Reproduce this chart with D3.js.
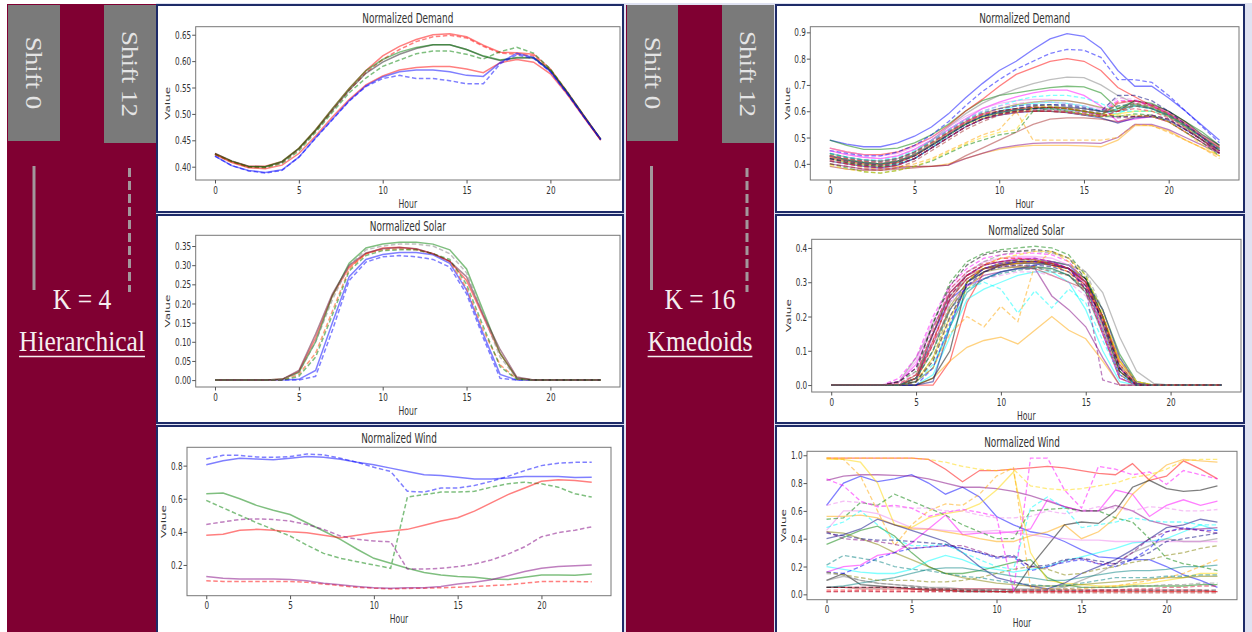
<!DOCTYPE html>
<html>
<head>
<meta charset="utf-8">
<script src="https://cdn.jsdelivr.net/npm/d3@7"></script>
<style>
  body { margin: 0; background: #fff; }
  svg { display: block; }
</style>
</head>
<body>
<svg id="fig" width="1252" height="632"></svg>
<script>
// ---- data ----
const hours = d3.range(24);
const xTicks = [0, 5, 10, 15, 20];

// Hierarchical, K = 4 (8 lines each: shift 0 solid / shift 12 dashed)
const hierDemandSeries = [
  [0.425,0.41,0.401,0.401,0.41,0.435,0.47,0.51,0.548,0.582,0.61,0.628,0.641,0.65,0.652,0.646,0.63,0.617,0.616,0.613,0.585,0.542,0.497,0.452],
  [0.424,0.41,0.4,0.399,0.408,0.433,0.468,0.507,0.545,0.578,0.603,0.622,0.637,0.646,0.649,0.644,0.628,0.615,0.613,0.61,0.582,0.54,0.495,0.451],
  [0.425,0.411,0.401,0.4,0.409,0.434,0.468,0.507,0.545,0.577,0.598,0.613,0.624,0.631,0.631,0.622,0.609,0.601,0.606,0.606,0.582,0.54,0.495,0.451],
  [0.424,0.41,0.4,0.4,0.41,0.435,0.47,0.51,0.548,0.582,0.603,0.617,0.626,0.631,0.631,0.622,0.61,0.602,0.607,0.607,0.583,0.541,0.496,0.452],
  [0.423,0.409,0.399,0.398,0.406,0.43,0.465,0.503,0.54,0.568,0.59,0.602,0.614,0.619,0.619,0.613,0.604,0.618,0.626,0.615,0.585,0.542,0.496,0.452],
  [0.423,0.408,0.398,0.396,0.403,0.425,0.458,0.494,0.527,0.555,0.572,0.583,0.588,0.59,0.59,0.585,0.578,0.597,0.603,0.598,0.576,0.537,0.493,0.45],
  [0.42,0.402,0.393,0.389,0.394,0.418,0.455,0.49,0.525,0.553,0.57,0.58,0.583,0.583,0.58,0.573,0.571,0.597,0.615,0.607,0.58,0.54,0.495,0.452],
  [0.42,0.402,0.392,0.388,0.393,0.418,0.454,0.489,0.524,0.552,0.567,0.573,0.567,0.567,0.563,0.557,0.557,0.595,0.612,0.605,0.58,0.538,0.494,0.451]
];
const hierSolarSeries = [
  [0,0,0,0,0,0.002,0.025,0.15,0.27,0.315,0.328,0.333,0.333,0.327,0.305,0.235,0.12,0.015,0,0,0,0,0,0],
  [0,0,0,0,0,0,0.01,0.13,0.26,0.308,0.322,0.325,0.322,0.315,0.295,0.225,0.11,0.005,0,0,0,0,0,0],
  [0,0,0,0,0.002,0.022,0.11,0.22,0.295,0.33,0.345,0.347,0.342,0.33,0.31,0.26,0.165,0.07,0.005,0,0,0,0,0],
  [0,0,0,0,0,0.015,0.07,0.18,0.29,0.33,0.34,0.343,0.34,0.33,0.31,0.24,0.13,0.04,0.003,0,0,0,0,0],
  [0,0,0,0,0.002,0.02,0.1,0.22,0.305,0.345,0.355,0.36,0.36,0.355,0.34,0.29,0.18,0.07,0.005,0,0,0,0,0],
  [0,0,0,0,0,0.01,0.06,0.17,0.285,0.325,0.338,0.34,0.34,0.33,0.315,0.25,0.14,0.035,0.002,0,0,0,0,0],
  [0,0,0,0,0.002,0.025,0.12,0.225,0.3,0.332,0.343,0.346,0.343,0.33,0.31,0.27,0.17,0.08,0.008,0,0,0,0,0],
  [0,0,0,0,0.002,0.02,0.1,0.21,0.3,0.34,0.35,0.355,0.355,0.35,0.33,0.28,0.17,0.06,0.005,0,0,0,0,0]
];
const hierWindSeries = [
  [0.805,0.83,0.845,0.84,0.835,0.845,0.855,0.85,0.838,0.82,0.805,0.785,0.765,0.745,0.74,0.73,0.72,0.72,0.725,0.735,0.735,0.735,0.728,0.73],
  [0.84,0.862,0.862,0.852,0.85,0.855,0.87,0.865,0.845,0.82,0.79,0.765,0.645,0.64,0.665,0.665,0.68,0.705,0.735,0.77,0.8,0.815,0.82,0.82],
  [0.63,0.635,0.6,0.56,0.53,0.505,0.455,0.405,0.355,0.295,0.24,0.21,0.18,0.155,0.14,0.13,0.125,0.115,0.112,0.125,0.14,0.14,0.138,0.145],
  [0.59,0.545,0.5,0.455,0.415,0.375,0.32,0.27,0.24,0.22,0.2,0.18,0.61,0.625,0.64,0.64,0.645,0.67,0.69,0.7,0.69,0.67,0.63,0.61],
  [0.38,0.385,0.41,0.415,0.41,0.4,0.395,0.38,0.365,0.38,0.395,0.405,0.415,0.44,0.465,0.485,0.525,0.575,0.625,0.665,0.705,0.715,0.71,0.7],
  [0.105,0.1,0.1,0.1,0.1,0.1,0.095,0.085,0.075,0.065,0.06,0.055,0.058,0.06,0.062,0.065,0.07,0.075,0.08,0.09,0.1,0.1,0.1,0.098],
  [0.13,0.12,0.115,0.115,0.115,0.112,0.105,0.09,0.08,0.07,0.062,0.06,0.062,0.063,0.07,0.085,0.095,0.11,0.135,0.16,0.18,0.19,0.195,0.2],
  [0.445,0.46,0.475,0.478,0.475,0.465,0.445,0.415,0.375,0.355,0.345,0.34,0.175,0.175,0.18,0.19,0.205,0.23,0.265,0.31,0.37,0.395,0.41,0.43]
];

// Kmedoids, K = 16: one array per cluster, shift 0 and shift 12
const kmedDemandShift0 = [
  [0.49,0.475,0.465,0.465,0.48,0.505,0.54,0.59,0.65,0.705,0.755,0.79,0.835,0.875,0.895,0.885,0.84,0.755,0.695,0.695,0.65,0.6,0.545,0.49],
  [0.49,0.47,0.455,0.455,0.46,0.48,0.51,0.55,0.6,0.64,0.66,0.67,0.68,0.69,0.695,0.693,0.67,0.61,0.64,0.63,0.6,0.56,0.52,0.47],
  [0.46,0.445,0.435,0.435,0.445,0.47,0.5,0.545,0.6,0.645,0.695,0.74,0.765,0.79,0.8,0.79,0.755,0.69,0.655,0.62,0.59,0.55,0.5,0.46],
  [0.42,0.405,0.395,0.39,0.4,0.42,0.46,0.51,0.55,0.58,0.6,0.62,0.63,0.635,0.63,0.62,0.6,0.59,0.62,0.61,0.58,0.54,0.5,0.45],
  [0.45,0.435,0.425,0.42,0.43,0.455,0.49,0.53,0.57,0.61,0.635,0.655,0.67,0.68,0.68,0.66,0.62,0.56,0.57,0.58,0.56,0.52,0.48,0.44],
  [0.42,0.405,0.395,0.39,0.39,0.39,0.39,0.4,0.42,0.44,0.455,0.465,0.47,0.47,0.47,0.468,0.465,0.49,0.545,0.545,0.525,0.49,0.46,0.43],
  [0.43,0.415,0.405,0.4,0.41,0.43,0.47,0.51,0.55,0.58,0.595,0.605,0.61,0.615,0.615,0.61,0.6,0.6,0.64,0.625,0.6,0.56,0.51,0.47],
  [0.4,0.39,0.38,0.38,0.385,0.39,0.39,0.395,0.42,0.44,0.46,0.47,0.478,0.48,0.48,0.48,0.478,0.5,0.55,0.55,0.53,0.5,0.47,0.44],
  [0.39,0.38,0.375,0.375,0.38,0.385,0.39,0.395,0.43,0.46,0.49,0.52,0.55,0.57,0.575,0.575,0.57,0.56,0.58,0.58,0.56,0.52,0.48,0.44],
  [0.44,0.425,0.415,0.41,0.42,0.445,0.49,0.54,0.59,0.63,0.66,0.685,0.705,0.72,0.73,0.728,0.7,0.66,0.63,0.61,0.58,0.54,0.5,0.46],
  [0.46,0.445,0.435,0.43,0.44,0.465,0.5,0.54,0.58,0.61,0.63,0.64,0.645,0.645,0.64,0.63,0.61,0.6,0.63,0.62,0.59,0.55,0.5,0.46],
  [0.425,0.41,0.4,0.395,0.405,0.43,0.47,0.51,0.55,0.575,0.59,0.6,0.6,0.6,0.598,0.59,0.58,0.59,0.6,0.6,0.58,0.54,0.49,0.45],
  [0.43,0.415,0.405,0.4,0.41,0.435,0.475,0.52,0.56,0.59,0.61,0.625,0.635,0.64,0.64,0.63,0.615,0.6,0.625,0.615,0.585,0.545,0.5,0.46],
  [0.41,0.4,0.39,0.385,0.395,0.42,0.46,0.5,0.54,0.57,0.585,0.595,0.6,0.6,0.595,0.585,0.575,0.555,0.575,0.58,0.565,0.53,0.49,0.45],
  [0.425,0.41,0.4,0.395,0.405,0.43,0.47,0.515,0.555,0.585,0.6,0.61,0.615,0.615,0.61,0.6,0.585,0.63,0.64,0.625,0.595,0.555,0.505,0.465],
  [0.43,0.415,0.405,0.4,0.41,0.435,0.47,0.51,0.55,0.58,0.595,0.605,0.61,0.61,0.605,0.6,0.59,0.61,0.62,0.61,0.585,0.545,0.5,0.455]
];
const kmedDemandShift12 = [
  [0.45,0.44,0.43,0.43,0.445,0.47,0.51,0.56,0.62,0.675,0.72,0.76,0.79,0.82,0.835,0.832,0.805,0.72,0.72,0.71,0.66,0.6,0.54,0.48],
  [0.4,0.385,0.37,0.365,0.375,0.39,0.41,0.44,0.47,0.49,0.51,0.52,0.6,0.61,0.6,0.59,0.58,0.58,0.59,0.585,0.56,0.52,0.48,0.43],
  [0.43,0.42,0.41,0.41,0.42,0.445,0.48,0.52,0.56,0.59,0.6,0.61,0.615,0.615,0.61,0.6,0.59,0.635,0.64,0.62,0.59,0.55,0.5,0.45],
  [0.44,0.425,0.415,0.415,0.425,0.45,0.49,0.53,0.57,0.6,0.62,0.64,0.655,0.66,0.66,0.65,0.63,0.6,0.6,0.6,0.58,0.54,0.49,0.44],
  [0.43,0.42,0.41,0.405,0.415,0.44,0.48,0.52,0.56,0.59,0.61,0.62,0.625,0.625,0.62,0.61,0.6,0.64,0.64,0.62,0.59,0.55,0.5,0.45],
  [0.41,0.4,0.385,0.38,0.385,0.4,0.42,0.45,0.48,0.51,0.53,0.6,0.49,0.49,0.49,0.49,0.49,0.5,0.55,0.545,0.52,0.49,0.46,0.42],
  [0.42,0.405,0.395,0.39,0.4,0.42,0.46,0.5,0.54,0.57,0.59,0.6,0.61,0.615,0.61,0.6,0.59,0.58,0.58,0.585,0.57,0.53,0.49,0.44],
  [0.41,0.4,0.39,0.385,0.395,0.42,0.46,0.5,0.54,0.57,0.59,0.6,0.605,0.605,0.6,0.595,0.585,0.575,0.58,0.585,0.57,0.53,0.49,0.44],
  [0.4,0.39,0.38,0.375,0.385,0.41,0.45,0.49,0.53,0.56,0.585,0.6,0.6,0.6,0.595,0.585,0.58,0.6,0.62,0.61,0.58,0.54,0.49,0.44],
  [0.43,0.415,0.405,0.4,0.41,0.435,0.47,0.51,0.55,0.58,0.6,0.61,0.62,0.62,0.615,0.605,0.595,0.62,0.63,0.615,0.59,0.55,0.5,0.45],
  [0.45,0.435,0.425,0.42,0.43,0.455,0.49,0.53,0.57,0.6,0.62,0.63,0.635,0.635,0.63,0.62,0.605,0.65,0.645,0.625,0.595,0.55,0.5,0.455],
  [0.395,0.38,0.37,0.365,0.375,0.39,0.415,0.445,0.475,0.5,0.52,0.53,0.62,0.62,0.61,0.6,0.59,0.585,0.585,0.58,0.56,0.52,0.47,0.43],
  [0.435,0.42,0.41,0.405,0.415,0.44,0.48,0.52,0.555,0.585,0.6,0.61,0.615,0.615,0.61,0.6,0.59,0.61,0.63,0.62,0.59,0.55,0.5,0.45],
  [0.42,0.41,0.4,0.395,0.405,0.43,0.47,0.51,0.55,0.58,0.6,0.61,0.62,0.625,0.625,0.615,0.6,0.66,0.66,0.64,0.6,0.55,0.5,0.45],
  [0.415,0.4,0.39,0.385,0.395,0.42,0.46,0.5,0.54,0.57,0.585,0.595,0.6,0.6,0.595,0.59,0.58,0.6,0.61,0.6,0.575,0.535,0.49,0.445],
  [0.44,0.425,0.415,0.41,0.42,0.445,0.485,0.525,0.565,0.595,0.61,0.62,0.625,0.625,0.62,0.61,0.6,0.62,0.625,0.61,0.585,0.545,0.5,0.455]
];
const kmedSolarShift0 = [
  [0,0,0,0,0,0.01,0.15,0.25,0.29,0.31,0.33,0.34,0.35,0.36,0.35,0.3,0.2,0.05,0,0,0,0,0,0],
  [0,0,0,0,0,0.02,0.15,0.27,0.32,0.35,0.36,0.365,0.365,0.36,0.35,0.31,0.22,0.09,0.01,0,0,0,0,0],
  [0,0,0,0,0,0,0,0.07,0.24,0.33,0.35,0.355,0.36,0.355,0.34,0.3,0.18,0.04,0,0,0,0,0,0],
  [0,0,0,0,0,0,0.03,0.14,0.25,0.28,0.3,0.32,0.33,0.33,0.3,0.22,0.1,0.01,0,0,0,0,0,0],
  [0,0,0,0,0.01,0.06,0.17,0.27,0.32,0.35,0.36,0.37,0.37,0.36,0.34,0.29,0.18,0.05,0,0,0,0,0,0],
  [0,0,0,0,0,0,0.02,0.07,0.11,0.13,0.14,0.12,0.16,0.2,0.16,0.135,0.07,0,0,0,0,0,0,0],
  [0,0,0,0,0,0,0.02,0.1,0.3,0.34,0.35,0.355,0.355,0.35,0.34,0.31,0.2,0.05,0,0,0,0,0,0],
  [0,0,0,0,0,0.02,0.12,0.22,0.29,0.32,0.33,0.34,0.34,0.26,0.22,0.17,0.08,0,0,0,0,0,0,0],
  [0,0,0,0,0,0.03,0.15,0.27,0.32,0.34,0.345,0.345,0.34,0.32,0.3,0.28,0.2,0.07,0.005,0,0,0,0,0],
  [0,0,0,0,0.01,0.08,0.17,0.26,0.31,0.34,0.35,0.36,0.36,0.36,0.35,0.33,0.27,0.14,0.04,0.005,0,0,0,0],
  [0,0,0,0,0.01,0.07,0.19,0.28,0.33,0.36,0.37,0.375,0.375,0.37,0.35,0.3,0.19,0.05,0,0,0,0,0,0],
  [0,0,0,0,0,0.01,0.08,0.2,0.28,0.33,0.35,0.355,0.36,0.35,0.33,0.29,0.2,0.07,0.01,0,0,0,0,0],
  [0,0,0,0,0,0.02,0.1,0.23,0.3,0.33,0.34,0.345,0.345,0.34,0.32,0.28,0.17,0.04,0,0,0,0,0,0],
  [0,0,0,0,0,0,0.01,0.17,0.3,0.33,0.35,0.36,0.36,0.35,0.34,0.3,0.22,0.08,0.005,0,0,0,0,0],
  [0,0,0,0,0,0.02,0.13,0.25,0.31,0.34,0.355,0.36,0.36,0.355,0.34,0.29,0.19,0.05,0,0,0,0,0,0],
  [0,0,0,0,0,0.01,0.05,0.17,0.27,0.31,0.33,0.34,0.345,0.34,0.32,0.27,0.15,0.02,0,0,0,0,0,0]
];
const kmedSolarShift12 = [
  [0,0,0,0,0,0,0.05,0.18,0.3,0.34,0.355,0.36,0.36,0.355,0.34,0.28,0.16,0.03,0,0,0,0,0,0],
  [0,0,0,0,0.01,0.04,0.18,0.3,0.36,0.385,0.395,0.4,0.405,0.4,0.38,0.32,0.2,0.05,0,0,0,0,0,0],
  [0,0,0,0,0,0.01,0.12,0.26,0.32,0.35,0.37,0.37,0.365,0.35,0.33,0.28,0.15,0.02,0,0,0,0,0,0],
  [0,0,0,0,0,0.01,0.06,0.17,0.28,0.3,0.28,0.21,0.275,0.225,0.28,0.24,0.13,0.03,0,0,0,0,0,0],
  [0,0,0,0,0.02,0.08,0.2,0.29,0.34,0.37,0.38,0.385,0.385,0.38,0.36,0.3,0.15,0.02,0,0,0,0,0,0],
  [0,0,0,0,0,0.01,0.05,0.15,0.2,0.17,0.23,0.185,0.35,0.39,0.36,0.3,0.19,0.06,0,0,0,0,0,0],
  [0,0,0,0,0.01,0.05,0.18,0.29,0.35,0.38,0.39,0.39,0.395,0.39,0.37,0.31,0.18,0.04,0,0,0,0,0,0],
  [0,0,0,0,0.01,0.05,0.15,0.26,0.32,0.35,0.36,0.365,0.37,0.36,0.34,0.28,0.015,0,0,0,0,0,0,0],
  [0,0,0,0,0,0.02,0.13,0.25,0.31,0.34,0.35,0.35,0.345,0.33,0.32,0.27,0.16,0.03,0,0,0,0,0,0],
  [0,0,0,0,0,0.02,0.1,0.24,0.33,0.36,0.38,0.39,0.39,0.385,0.37,0.33,0.22,0.08,0.01,0,0,0,0,0],
  [0,0,0,0,0,0.04,0.14,0.24,0.29,0.31,0.32,0.33,0.33,0.32,0.3,0.26,0.17,0.05,0,0,0,0,0,0],
  [0,0,0,0,0,0.01,0.07,0.19,0.3,0.35,0.37,0.38,0.39,0.39,0.37,0.32,0.21,0.07,0.01,0,0,0,0,0],
  [0,0,0,0,0,0.01,0.08,0.22,0.3,0.34,0.355,0.36,0.36,0.355,0.34,0.3,0.2,0.06,0,0,0,0,0,0],
  [0,0,0,0,0,0.01,0.07,0.2,0.29,0.33,0.345,0.35,0.35,0.345,0.33,0.29,0.19,0.05,0,0,0,0,0,0],
  [0,0,0,0,0.005,0.03,0.16,0.28,0.33,0.355,0.36,0.365,0.365,0.355,0.34,0.3,0.2,0.06,0,0,0,0,0,0],
  [0,0,0,0,0,0.02,0.1,0.22,0.28,0.31,0.325,0.335,0.34,0.335,0.32,0.28,0.18,0.04,0,0,0,0,0,0]
];
const kmedWindShift0 = [
  [0.64,0.8,0.85,0.81,0.83,0.86,0.8,0.72,0.77,0.7,0.56,0.5,0.45,0.43,0.38,0.32,0.27,0.26,0.25,0.25,0.2,0.14,0.1,0.05],
  [0.36,0.41,0.46,0.49,0.42,0.3,0.2,0.15,0.15,0.17,0.2,0.23,0.25,0.12,0.07,0.05,0.05,0.05,0.06,0.06,0.06,0.06,0.07,0.07],
  [0.98,0.98,0.98,0.98,0.98,0.98,0.97,0.9,0.81,0.89,0.89,0.9,0.91,0.92,0.91,0.89,0.87,0.86,0.94,0.82,0.85,0.96,0.9,0.83],
  [0.2,0.18,0.16,0.15,0.15,0.18,0.24,0.28,0.25,0.2,0.18,0.16,0.18,0.2,0.24,0.27,0.3,0.33,0.37,0.38,0.4,0.45,0.5,0.46],
  [0.16,0.2,0.21,0.28,0.3,0.37,0.47,0.57,0.43,0.44,0.44,0.45,0.47,0.68,0.63,0.6,0.6,0.75,0.72,0.56,0.64,0.68,0.64,0.67],
  [0.56,0.56,0.57,0.55,0.5,0.47,0.47,0.45,0.43,0.4,0.38,0.38,0.42,0.45,0.5,0.4,0.45,0.55,0.72,0.83,0.93,0.97,0.96,0.95],
  [0.1,0.15,0.07,0.06,0.05,0.04,0.03,0.03,0.02,0.02,0.02,0.02,0.2,0.35,0.5,0.52,0.51,0.6,0.77,0.82,0.76,0.74,0.75,0.78],
  [0.82,0.85,0.86,0.86,0.855,0.85,0.83,0.8,0.77,0.77,0.76,0.74,0.71,0.67,0.63,0.6,0.6,0.64,0.6,0.53,0.5,0.47,0.47,0.48],
  [0.05,0.05,0.04,0.04,0.04,0.04,0.03,0.03,0.03,0.03,0.02,0.02,0.02,0.02,0.02,0.02,0.02,0.02,0.02,0.02,0.02,0.02,0.02,0.02],
  [0.1,0.13,0.1,0.08,0.07,0.06,0.05,0.05,0.04,0.04,0.04,0.04,0.04,0.04,0.05,0.1,0.15,0.22,0.3,0.35,0.4,0.38,0.38,0.4],
  [0.46,0.6,0.6,0.58,0.53,0.48,0.47,0.46,0.45,0.45,0.46,0.44,0.43,0.41,0.4,0.39,0.39,0.38,0.38,0.38,0.38,0.38,0.38,0.38],
  [0.97,0.97,0.95,0.8,0.5,0.48,0.55,0.58,0.6,0.65,0.75,0.88,0.3,0.1,0.08,0.07,0.06,0.06,0.07,0.08,0.1,0.12,0.15,0.15],
  [0.45,0.44,0.4,0.36,0.3,0.25,0.2,0.15,0.12,0.1,0.08,0.07,0.06,0.06,0.06,0.07,0.08,0.09,0.1,0.11,0.12,0.12,0.13,0.13],
  [0.4,0.43,0.47,0.54,0.5,0.46,0.42,0.38,0.3,0.2,0.12,0.09,0.06,0.04,0.08,0.15,0.2,0.25,0.32,0.4,0.48,0.5,0.54,0.52],
  [0.05,0.05,0.05,0.05,0.05,0.04,0.04,0.04,0.04,0.04,0.04,0.03,0.03,0.03,0.03,0.03,0.03,0.03,0.03,0.03,0.03,0.03,0.03,0.02],
  [0.05,0.06,0.08,0.1,0.12,0.15,0.18,0.19,0.19,0.17,0.15,0.13,0.12,0.1,0.1,0.12,0.14,0.16,0.17,0.17,0.18,0.2,0.2,0.21]
];
const kmedWindShift12 = [
  [0.16,0.15,0.2,0.26,0.3,0.33,0.34,0.35,0.33,0.3,0.26,0.27,0.17,0.2,0.23,0.25,0.22,0.2,0.25,0.33,0.45,0.48,0.46,0.46],
  [0.54,0.55,0.66,0.64,0.72,0.67,0.62,0.57,0.5,0.45,0.4,0.4,0.6,0.61,0.62,0.6,0.6,0.55,0.52,0.4,0.26,0.22,0.2,0.17],
  [0.03,0.03,0.03,0.03,0.03,0.03,0.03,0.03,0.025,0.02,0.02,0.02,0.02,0.02,0.02,0.02,0.02,0.02,0.02,0.02,0.02,0.02,0.02,0.02],
  [0.48,0.52,0.6,0.5,0.4,0.35,0.35,0.36,0.3,0.25,0.2,0.18,0.62,0.7,0.62,0.48,0.5,0.52,0.55,0.53,0.52,0.52,0.5,0.5],
  [0.83,0.78,0.67,0.63,0.64,0.62,0.56,0.59,0.61,0.59,0.56,0.02,0.98,0.98,0.75,0.62,0.92,0.9,0.86,0.88,0.79,0.89,0.86,0.83],
  [0.98,0.97,0.85,0.6,0.35,0.5,0.6,0.65,0.64,0.72,0.85,0.91,0.05,0.04,0.04,0.04,0.05,0.06,0.08,0.1,0.12,0.15,0.2,0.25],
  [0.05,0.05,0.05,0.05,0.05,0.05,0.04,0.04,0.03,0.03,0.03,0.03,0.03,0.03,0.03,0.03,0.03,0.03,0.03,0.03,0.03,0.03,0.03,0.03],
  [0.45,0.4,0.39,0.38,0.36,0.33,0.34,0.35,0.35,0.31,0.27,0.27,0.2,0.19,0.24,0.26,0.22,0.22,0.3,0.4,0.45,0.47,0.46,0.44],
  [0.02,0.02,0.02,0.02,0.02,0.02,0.02,0.02,0.02,0.02,0.02,0.01,0.01,0.01,0.01,0.01,0.01,0.01,0.01,0.01,0.01,0.01,0.01,0.01],
  [0.15,0.14,0.1,0.08,0.07,0.06,0.05,0.04,0.04,0.03,0.03,0.03,0.03,0.03,0.04,0.05,0.05,0.05,0.06,0.06,0.07,0.07,0.08,0.08],
  [0.64,0.67,0.66,0.64,0.63,0.62,0.62,0.6,0.6,0.57,0.55,0.55,0.56,0.6,0.58,0.6,0.63,0.62,0.6,0.63,0.62,0.6,0.6,0.61],
  [0.98,0.98,0.98,0.98,0.98,0.98,0.97,0.95,0.92,0.9,0.89,0.9,0.78,0.76,0.75,0.76,0.78,0.8,0.84,0.86,0.9,0.96,0.97,0.97],
  [0.16,0.14,0.12,0.1,0.1,0.1,0.09,0.09,0.1,0.12,0.15,0.18,0.2,0.18,0.14,0.15,0.18,0.2,0.23,0.25,0.28,0.3,0.33,0.35],
  [0.44,0.42,0.4,0.39,0.39,0.38,0.37,0.36,0.33,0.3,0.27,0.28,0.2,0.21,0.25,0.26,0.24,0.22,0.25,0.3,0.38,0.4,0.42,0.44],
  [0.02,0.02,0.025,0.02,0.02,0.02,0.02,0.02,0.02,0.02,0.02,0.02,0.02,0.02,0.02,0.02,0.03,0.03,0.04,0.04,0.05,0.05,0.06,0.06],
  [0.21,0.28,0.26,0.24,0.2,0.18,0.17,0.15,0.13,0.12,0.1,0.08,0.07,0.06,0.06,0.08,0.1,0.12,0.12,0.12,0.13,0.13,0.14,0.14]
];

// ---- styles ----
const maroon = '#800032';
const navy = '#1e2b68';
const kmedColors = ['blue','green','red','cyan','magenta','orange','black','purple',
                    'brown','gray','violet','gold','olive','navy','crimson','teal'];
const hierDemandStyle = [['red',0],['red',1],['#202020',0],['green',0],['green',1],['red',0],['blue',0],['blue',1]];
const hierSolarStyle  = [['blue',0],['blue',1],['red',0],['orangered',1],['green',0],['green',1],['#601030',0],['gray',1]];
const hierWindStyle   = [['blue',0],['blue',1],['green',0],['green',1],['red',0],['red',1],['purple',0],['purple',1]];
const kmedStyle = kmedColors.map(c => [c, 0]).concat(kmedColors.map(c => [c, 1]));

const svg = d3.select('#fig');
const sans = '"DejaVu Sans", sans-serif';
const serif = '"Liberation Serif", "Times New Roman", serif';
const squeeze = 0.66;   // the figure's text is horizontally compressed

// ---- panels ----
svg.append('rect').attr('x', 156).attr('y', 3).attr('width', 1096).attr('height', 629).attr('fill', '#dfe2f2');
[[157,5,466,207],[157,215,466,208],[157,426,466,210],
 [776,5,468,207],[776,215,468,208],[776,426,468,210]].forEach(([x, y, w, h]) => {
  svg.append('rect').attr('x', x).attr('y', y).attr('width', w).attr('height', h)
    .attr('fill', '#fff').attr('stroke', navy).attr('stroke-width', 2);
});

function chart(c) {
  const g = svg.append('g');
  const all = c.series.flat();
  const lo = d3.min(all), hi = d3.max(all), pad = (hi - lo) * 0.05;
  const x = d3.scaleLinear().domain([-1.15, 24.15]).range([c.x0, c.x1]);
  const y = d3.scaleLinear().domain([lo - pad, hi + pad]).range([c.y1, c.y0]);
  const line = d3.line().x((d, i) => x(hours[i])).y(d => y(d));

  g.selectAll('path.series').data(c.series).join('path')
    .attr('class', 'series')
    .attr('d', line)
    .attr('fill', 'none')
    .attr('stroke', (d, i) => c.styles[i][0])
    .attr('stroke-dasharray', (d, i) => c.styles[i][1] ? '4.5,2.5' : null)
    .attr('stroke-width', c.lw)
    .attr('stroke-opacity', c.alpha);

  g.append('rect').attr('x', c.x0).attr('y', c.y0)
    .attr('width', c.x1 - c.x0).attr('height', c.y1 - c.y0)
    .attr('fill', 'none').attr('stroke', '#777').attr('stroke-width', 1);

  const xa = g.append('g').attr('transform', `translate(0,${c.y1})`)
    .call(d3.axisBottom(x).tickValues(xTicks).tickSize(3.5).tickPadding(2.5));
  const ya = g.append('g').attr('transform', `translate(${c.x0},0)`)
    .call(d3.axisLeft(y).tickValues(c.yTicks).tickFormat(d3.format(c.fmt)).tickSize(3.5).tickPadding(3.3));
  [xa, ya].forEach(a => {
    a.select('.domain').remove();
    a.selectAll('line').attr('stroke', '#555');
    a.selectAll('text').attr('font-family', sans).attr('font-size', 11)
      .attr('fill', '#333').attr('transform', `scale(${squeeze},1)`);
  });

  const cx = (c.x0 + c.x1) / 2;
  g.append('text').attr('transform', `translate(${cx},${c.y0 - 4}) scale(${squeeze},1)`)
    .attr('text-anchor', 'middle').attr('font-family', sans).attr('font-size', 13.5)
    .attr('fill', '#333').text(c.title);
  g.append('text').attr('transform', `translate(${cx},${c.y1 + 27.5}) scale(0.64,1)`)
    .attr('text-anchor', 'middle').attr('font-family', sans).attr('font-size', 12)
    .attr('fill', '#333').text('Hour');
  g.append('text')
    .attr('transform', `translate(${c.x0 - c.labelOff},${(c.y0 + c.y1) / 2}) rotate(-90) scale(1,0.65)`)
    .attr('text-anchor', 'middle').attr('dy', '0.35em').attr('font-family', sans).attr('font-size', 12)
    .attr('fill', '#333').text('Value');
}

chart({ title: 'Normalized Demand', series: hierDemandSeries, styles: hierDemandStyle,
  x0: 195.7, x1: 620, y0: 26.7, y1: 180, yTicks: [0.40,0.45,0.50,0.55,0.60,0.65], fmt: '.2f',
  labelOff: 28, lw: 1.5, alpha: 0.5 });
chart({ title: 'Normalized Solar', series: hierSolarSeries, styles: hierSolarStyle,
  x0: 195.7, x1: 620, y0: 235.3, y1: 387, yTicks: [0,0.05,0.10,0.15,0.20,0.25,0.30,0.35], fmt: '.2f',
  labelOff: 28, lw: 1.5, alpha: 0.5 });
chart({ title: 'Normalized Wind', series: hierWindSeries, styles: hierWindStyle,
  x0: 187, x1: 611, y0: 447.3, y1: 595.7, yTicks: [0.2,0.4,0.6,0.8], fmt: '.1f',
  labelOff: 23.5, lw: 1.5, alpha: 0.5 });

chart({ title: 'Normalized Demand', series: kmedDemandShift0.concat(kmedDemandShift12), styles: kmedStyle,
  x0: 810.3, x1: 1239, y0: 26.7, y1: 180, yTicks: [0.4,0.5,0.6,0.7,0.8,0.9], fmt: '.1f',
  labelOff: 23.5, lw: 1.3, alpha: 0.5 });
chart({ title: 'Normalized Solar', series: kmedSolarShift0.concat(kmedSolarShift12), styles: kmedStyle,
  x0: 811.7, x1: 1241, y0: 239.3, y1: 392, yTicks: [0,0.1,0.2,0.3,0.4], fmt: '.1f',
  labelOff: 23.5, lw: 1.3, alpha: 0.5 });
chart({ title: 'Normalized Wind', series: kmedWindShift0.concat(kmedWindShift12), styles: kmedStyle,
  x0: 807, x1: 1237, y0: 451.3, y1: 599.7, yTicks: [0,0.2,0.4,0.6,0.8,1.0], fmt: '.1f',
  labelOff: 23.5, lw: 1.3, alpha: 0.5 });

// ---- side bars ----
function sidebar(s) {
  const g = svg.append('g');
  g.append('rect').attr('x', s.x).attr('y', s.y).attr('width', s.w).attr('height', 632 - s.y).attr('fill', maroon);
  s.boxes.forEach(b => {
    g.append('rect').attr('x', b.x).attr('y', b.y).attr('width', b.w).attr('height', b.h).attr('fill', '#7a7a7a');
    g.append('text')
      .attr('transform', `translate(${b.x + b.w / 2},${b.y + b.h / 2}) scale(0.85,1) rotate(90)`)
      .attr('text-anchor', 'middle').attr('dy', '0.33em')
      .attr('font-family', serif).attr('font-size', 27).attr('fill', '#e4e4e4').text(b.label);
  });
  g.append('line').attr('x1', s.solidX).attr('x2', s.solidX).attr('y1', 166).attr('y2', 290)
    .attr('stroke', '#a3979c').attr('stroke-width', 3);
  g.append('line').attr('x1', s.dashX).attr('x2', s.dashX).attr('y1', 168).attr('y2', 292)
    .attr('stroke', '#a3979c').attr('stroke-width', 3).attr('stroke-dasharray', '9,4');
  g.append('text').attr('transform', `translate(${s.cx},309) scale(0.85,1)`)
    .attr('text-anchor', 'middle').attr('font-family', serif).attr('font-size', 30)
    .attr('fill', '#f6eef0').text(s.k);
  const m = g.append('text').attr('transform', `translate(${s.cx},351) scale(0.85,1)`)
    .attr('text-anchor', 'middle').attr('font-family', serif).attr('font-size', 30)
    .attr('fill', '#f6eef0').text(s.method);
  const w = m.node().getComputedTextLength() * 0.85;
  g.append('line').attr('x1', s.cx - w / 2).attr('x2', s.cx + w / 2).attr('y1', 356.5).attr('y2', 356.5)
    .attr('stroke', '#f6eef0').attr('stroke-width', 1.6);
}

sidebar({ x: 7, y: 4, w: 149, cx: 82, solidX: 34, dashX: 129.5, k: 'K = 4', method: 'Hierarchical',
  boxes: [{ x: 8, y: 5, w: 52, h: 136, label: 'Shift 0' }, { x: 104, y: 5, w: 52, h: 138, label: 'Shift 12' }] });
sidebar({ x: 626, y: 5, w: 148, cx: 700, solidX: 651.5, dashX: 747, k: 'K = 16', method: 'Kmedoids',
  boxes: [{ x: 627, y: 5, w: 51, h: 136, label: 'Shift 0' }, { x: 722, y: 5, w: 52, h: 138, label: 'Shift 12' }] });
</script>
</body>
</html>
